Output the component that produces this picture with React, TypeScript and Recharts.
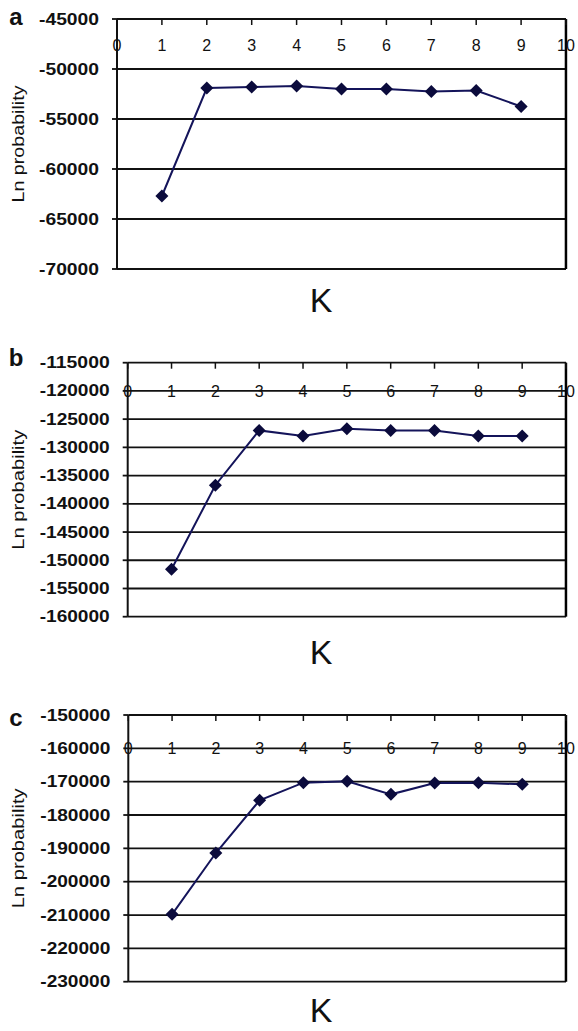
import React from "react";
import { LineChart, Line, XAxis, YAxis, CartesianGrid, ReferenceLine } from "recharts";

const K_VALUES = [1, 2, 3, 4, 5, 6, 7, 8, 9];
const X_TICKS = [0, 1, 2, 3, 4, 5, 6, 7, 8, 9, 10];

const LNP_A = [-62700, -51900, -51800, -51700, -52000, -52000, -52250, -52150, -53750];
const LNP_B = [-151600, -136700, -127000, -128000, -126700, -127000, -127000, -128000, -128000];
const LNP_C = [-209800, -191400, -175600, -170300, -169900, -173800, -170400, -170300, -170800];

const Y_TICKS_A = [-70000, -65000, -60000, -55000, -50000, -45000];
const Y_TICKS_B = [-160000, -155000, -150000, -145000, -140000, -135000, -130000, -125000, -120000, -115000];
const Y_TICKS_C = [-230000, -220000, -210000, -200000, -190000, -180000, -170000, -160000, -150000];

const FONT = "'Liberation Sans', Arial, sans-serif";
const INK = "#111";
const LINE_COLOR = "#14145a";
const DOT_COLOR = "#0b0b3c";

type PanelProps = {
  letter: string;
  values: number[];
  yTicks: number[];
  top: number;
  height: number;
  plotTop: number;
  plotBottom: number;
  plotLeft: number;
  xLabelOffset: number;
  yLabelLen: number;
  letterY: number;
  kY: number;
};

function Panel(p: PanelProps) {
  const data = K_VALUES.map((k, i) => ({ k, v: p.values[i] }));
  const domain = [p.yTicks[0], p.yTicks[p.yTicks.length - 1]];
  const midY = (p.plotTop + p.plotBottom) / 2;
  const xAxisH = 20;

  // category labels sit near the top of the plot, as in the original
  const xTick = (props: any) => {
    const { x, payload } = props;
    return (
      <g>
        <line x1={x} y1={p.plotTop} x2={x} y2={p.plotTop + 6} stroke={INK} strokeWidth={1.5} />
        <text
          x={x}
          y={p.plotTop + p.xLabelOffset}
          textAnchor="middle"
          dominantBaseline="central"
          fontFamily={FONT}
          fontSize={16}
          fill={INK}
        >
          {payload.value}
        </text>
      </g>
    );
  };

  const yTick = (props: any) => {
    const { x, y, payload } = props;
    const label = String(payload.value);
    return (
      <text
        x={x}
        y={y}
        textAnchor="end"
        dominantBaseline="central"
        fontFamily={FONT}
        fontSize={16}
        fontWeight="bold"
        fill={INK}
        textLength={label.length * 10}
        lengthAdjust="spacingAndGlyphs"
      >
        {label}
      </text>
    );
  };

  const diamond = (props: any) => {
    const { cx, cy, index } = props;
    const r = 6.5;
    return (
      <path
        key={`d-${index}`}
        d={`M${cx},${cy - r} L${cx + r},${cy} L${cx},${cy + r} L${cx - r},${cy} Z`}
        fill={DOT_COLOR}
      />
    );
  };

  return (
    <div style={{ position: "absolute", left: 0, top: p.top, width: 578, height: p.height, overflow: "hidden" }}>
      <LineChart
        width={578}
        height={p.height}
        data={data}
        margin={{ top: p.plotTop, right: 12, bottom: p.height - p.plotBottom - xAxisH, left: 0 }}
      >
        <CartesianGrid horizontal vertical={false} stroke={INK} strokeWidth={1.8} strokeOpacity={1} />
        <XAxis
          dataKey="k"
          type="number"
          domain={[0, 10]}
          ticks={X_TICKS}
          interval={0}
          height={xAxisH}
          axisLine={false}
          tickLine={false}
          tick={xTick}
        />
        <YAxis
          type="number"
          domain={domain}
          ticks={p.yTicks}
          interval={0}
          width={p.plotLeft}
          axisLine={{ stroke: INK, strokeWidth: 2 }}
          tickLine={{ stroke: INK, strokeWidth: 1.8 }}
          tickSize={5}
          tickMargin={13}
          tick={yTick}
        />
        {/* right frame of the plot; a line exactly at the domain edge gets dropped */}
        <ReferenceLine x={9.999} stroke="#000" strokeWidth={2.5} strokeOpacity={1} />
        <Line
          type="linear"
          dataKey="v"
          stroke={LINE_COLOR}
          strokeWidth={2}
          dot={diamond}
          activeDot={false}
          isAnimationActive={false}
        />
      </LineChart>
      <svg
        width={578}
        height={p.height}
        style={{ position: "absolute", left: 0, top: 0, pointerEvents: "none" }}
      >
        <text x={16} y={p.letterY} textAnchor="middle" dominantBaseline="central" fontFamily={FONT} fontSize={24} fontWeight="bold" fill={INK}>
          {p.letter}
        </text>
        <text
          transform={`translate(18, ${midY}) rotate(-90)`}
          textAnchor="middle"
          dominantBaseline="central"
          fontFamily={FONT}
          fontSize={17}
          fill={INK}
          textLength={p.yLabelLen}
          lengthAdjust="spacingAndGlyphs"
        >
          Ln probability
        </text>
        <text x={321} y={p.kY} textAnchor="middle" dominantBaseline="central" fontFamily={FONT} fontSize={34} fill={INK}>
          K
        </text>
      </svg>
    </div>
  );
}

export default function App() {
  return (
    <div style={{ position: "absolute", left: 0, top: 0, width: 578, height: 1031, background: "#fff", overflow: "hidden" }}>
      <Panel letter="a" values={LNP_A} yTicks={Y_TICKS_A} top={0} height={330} plotTop={19} plotBottom={269} plotLeft={117} xLabelOffset={26} yLabelLen={117} letterY={16} kY={300} />
      <Panel letter="b" values={LNP_B} yTicks={Y_TICKS_B} top={330} height={340} plotTop={32.7} plotBottom={286.7} plotLeft={127.7} xLabelOffset={28.3} yLabelLen={120} letterY={27} kY={322} />
      <Panel letter="c" values={LNP_C} yTicks={Y_TICKS_C} top={680} height={351} plotTop={35} plotBottom={301.7} plotLeft={128.3} xLabelOffset={33.3} yLabelLen={120} letterY={37} kY={330} />
    </div>
  );
}
